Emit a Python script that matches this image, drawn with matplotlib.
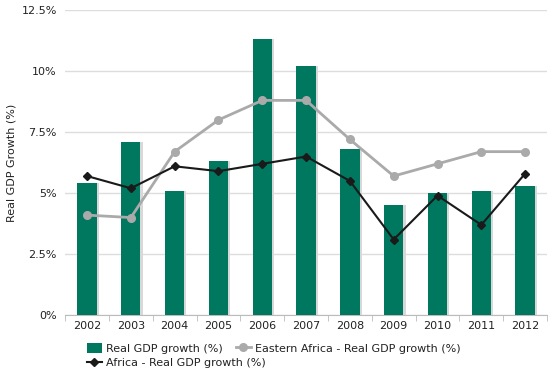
import matplotlib
matplotlib.use("Agg")
import matplotlib.pyplot as plt
import numpy as np
from matplotlib.ticker import FuncFormatter

years = ["2002", "2003", "2004", "2005", "2006", "2007", "2008", "2009", "2010", "2011", "2012"]
real_gdp = [5.4, 7.1, 5.1, 6.3, 11.3, 10.2, 6.8, 4.5, 5.0, 5.1, 5.3]
eastern_africa = [4.1, 4.0, 6.7, 8.0, 8.8, 8.8, 7.2, 5.7, 6.2, 6.7, 6.7]
africa = [5.7, 5.2, 6.1, 5.9, 6.2, 6.5, 5.5, 3.1, 4.9, 3.7, 5.8]

plt.rcParams['font.family'] = ['DejaVu Sans']
fig = plt.figure(figsize=(5.52, 3.73), dpi=100)
ax = fig.add_axes([0.118, 0.155, 0.873, 0.818])

x = np.arange(len(years))
green = "#00775F"
# shadow
ax.bar(x + 0.05, real_gdp, width=0.44, color="#d8d8d8", zorder=2)
bars = ax.bar(x, real_gdp, width=0.44, color=green, zorder=3, label="Real GDP growth (%)")
l1, = ax.plot(x, eastern_africa, color="#aaaaaa", lw=2, marker="o", ms=5.5, zorder=4,
              label="Eastern Africa - Real GDP growth (%)")
l2, = ax.plot(x, africa, color="#1a1a1a", lw=1.5, marker="D", ms=4.5, zorder=5,
              label="Africa - Real GDP growth (%)")

ax.set_xlim(-0.5, len(years) - 0.5)
ax.set_ylim(0, 12.5)
ax.set_yticks([0, 2.5, 5, 7.5, 10, 12.5])
ax.yaxis.set_major_formatter(FuncFormatter(lambda v, p: f"{v:g}%"))
ax.set_xticks(x)
ax.set_xticklabels(years)
ax.set_xticks(np.arange(-0.5, len(years), 1), minor=True)
ax.tick_params(axis='x', which='major', length=0, labelsize=8, colors="#222222", pad=4)
ax.tick_params(axis='x', which='minor', length=4, color="#bbbbbb")
ax.tick_params(axis='y', length=0, labelsize=8, colors="#222222", pad=6)
ax.grid(axis='y', color="#dddddd", lw=1, zorder=0)
for s in ["left", "right", "top"]:
    ax.spines[s].set_visible(False)
ax.spines["bottom"].set_color("#bbbbbb")
fig.text(12 / 552, 0.155 + 0.818 / 2, "Real GDP Growth (%)", rotation=90, fontsize=8,
         color="#222222", ha="center", va="center")

leg1 = fig.legend(handles=[bars, l1], ncol=2, loc="upper left",
                  bbox_to_anchor=(0.148, 0.096), frameon=False, fontsize=8,
                  handlelength=1.3, handleheight=1.1, handletextpad=0.4, columnspacing=1.2,
                  borderpad=0, labelcolor="#222222")
leg1.legend_handles[1].set_linewidth(2)
leg2 = fig.legend(handles=[l2], loc="upper left",
                  bbox_to_anchor=(0.148, 0.056), frameon=False, fontsize=8,
                  handlelength=1.3, handletextpad=0.4, borderpad=0, labelcolor="#222222")

fig.savefig("out.png", dpi=100)
